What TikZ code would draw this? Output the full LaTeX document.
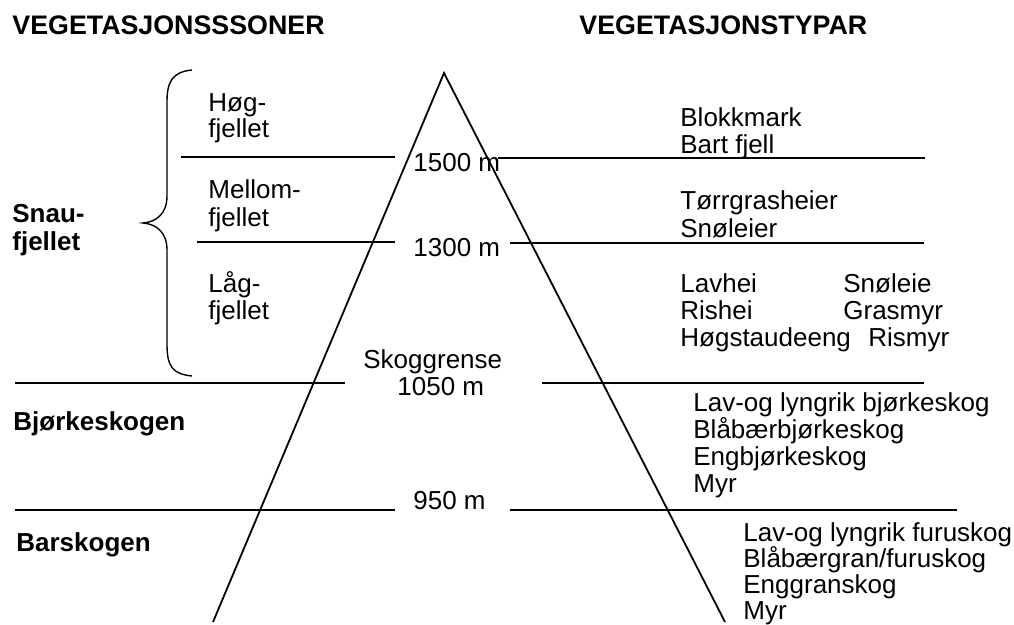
\documentclass[tikz,border=0pt]{standalone}
\usepackage{fontspec}
\setmainfont{Liberation Sans}
\usetikzlibrary{positioning}

\begin{document}
\begin{tikzpicture}[
    x=0.5pt, y=-0.5pt,
    txt/.style={anchor=base west, inner sep=0pt, font=\fontsize{13}{15}\selectfont},
    zone/.style={txt, font=\fontsize{13}{15}\selectfont\bfseries},
    head/.style={txt, font=\fontsize{13.4}{15}\selectfont\bfseries},
    border/.style={line width=0.7pt},
    mtn/.style={line width=0.9pt},
]
    \useasboundingbox (0,0) rectangle (1014,625);

    % Headings
    \node[head] (hzone) at (12,35) {VEGETASJONSSSONER};
    \node[head] (htype) at (579,35) {VEGETASJONSTYPAR};

    % Mountain
    \coordinate (top) at (444,73);
    \coordinate (footl) at (213,622);
    \coordinate (footr) at (725,622);
    \draw[mtn] (footl) -- (top) -- (footr);

    % Zone borders
    \draw[border] (181,157) -- (395,157) (498,158) -- (925,158);
    \draw[border] (197,242) -- (395,242) (510,243) -- (924,243);
    \draw[border] (15,383) -- (345,383) (542,383) -- (924,383);
    \draw[border] (15,510) -- (395,510) (510,510) -- (957,510);

    % Brace round the mountain zones
    \draw[border] (192,70) .. controls (172,72) and (167,82) .. (167,102) -- (167,196)
        .. controls (167,214) and (156,222) .. (143,223)
        .. controls (156,224) and (167,232) .. (167,250) -- (167,344)
        .. controls (167,366) and (172,374) .. (192,376);

    % Zones, left side
    \node[zone] (snau) at (12,223) {Snau-};
    \node[zone] (snau2) at (12,251) {fjellet};
    \node[zone] (bjork) at (13,431) {Bjørkeskogen};
    \node[zone] (bar) at (16,552) {Barskogen};

    \node[txt] (hog) at (208,112) {Høg-};
    \node[txt] (hog2) at (208,138) {fjellet};
    \node[txt] (mel) at (208,199) {Mellom-};
    \node[txt] (mel2) at (208,227) {fjellet};
    \node[txt] (lag) at (208,293) {Låg-};
    \node[txt] (lag2) at (208,320) {fjellet};

    % Heights
    \node[txt] (h1500) at (413,172) {1500 m};
    \node[txt] (h1300) at (413,257) {1300 m};
    \node[txt] (skog) at (363,369) {Skoggrense};
    \node[txt] (h1050) at (397,396) {1050 m};
    \node[txt] (h950) at (413,510) {950 m};

    % Vegetation types
    \node[txt] (blokk) at (680,127) {Blokkmark};
    \node[txt] (bart) at (680,154) {Bart fjell};
    \node[txt] (torr) at (680,210) {Tørrgrasheier};
    \node[txt] (snol) at (680,238) {Snøleier};
    \foreach \t [count=\i from 0] in {Lavhei, Rishei, Høgstaudeeng}
        \node[txt] (lav\i) at (680,293+27*\i) {\t};
    \node[txt] (snoleie) at (843,293) {Snøleie};
    \node[txt] (gras) at (843,320) {Grasmyr};
    \node[txt] (ris) at (868,347) {Rismyr};
    \foreach \t [count=\i from 0] in {Lav-og lyngrik bjørkeskog, Blåbærbjørkeskog, Engbjørkeskog, Myr}
        \node[txt] (bj\i) at (693,412+26.7*\i) {\t};
    \foreach \t [count=\i from 0] in {Lav-og lyngrik furuskog, Blåbærgran/furuskog, Enggranskog, Myr}
        \node[txt] (fu\i) at (743,542+26*\i) {\t};

\end{tikzpicture}
\end{document}
